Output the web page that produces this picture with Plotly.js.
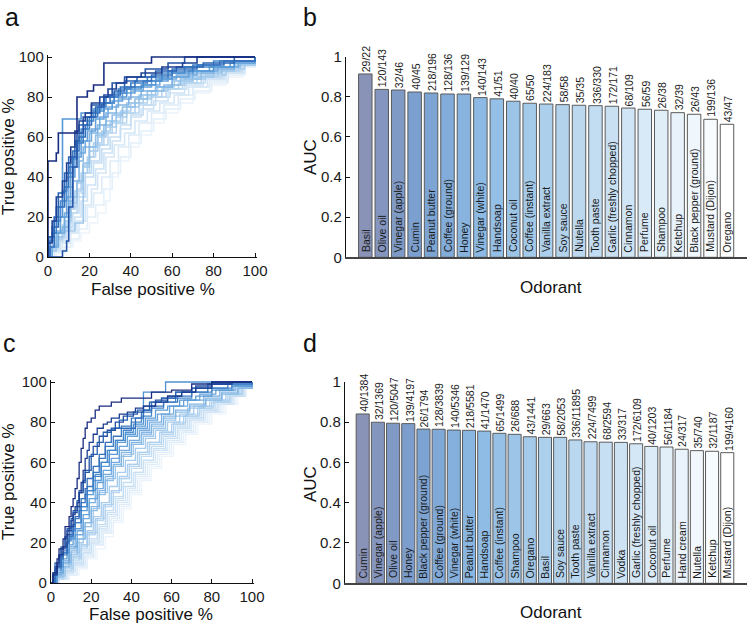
<!DOCTYPE html>
<html><head><meta charset="utf-8">
<script src="https://cdn.plot.ly/plotly-3.0.1.min.js"></script>
<style>html,body{margin:0;padding:0;background:#fff}#chart{width:748px;height:623px}</style>
</head><body><div id="chart"></div>
<script>
// ---------- Data: panel b (AUC per odorant) ----------
const odorB = ["Basil","Olive oil","Vinegar (apple)","Cumin","Peanut butter","Coffee (ground)","Honey","Vinegar (white)","Handsoap","Coconut oil","Coffee (instant)","Vanilla extract","Soy sauce","Nutella","Tooth paste","Garlic (freshly chopped)","Cinnamon","Perfume","Shampoo","Ketchup","Black pepper (ground)","Mustard (Dijon)","Oregano"];
const aucB = [0.914,0.837,0.834,0.824,0.819,0.814,0.814,0.796,0.790,0.778,0.768,0.764,0.761,0.758,0.756,0.753,0.744,0.738,0.733,0.721,0.713,0.688,0.663];
const countsB = ["29/22","120/143","32/46","40/45","218/196","128/136","139/129","140/143","41/51","40/40","65/50","224/183","58/58","35/35","336/330","172/171","68/109","56/59","26/38","32/39","26/43","199/136","43/47"];

// ---------- Data: panel d ----------
const odorD = ["Cumin","Vinegar (apple)","Olive oil","Honey","Black pepper (ground)","Coffee (ground)","Vinegar (white)","Peanut butter","Handsoap","Coffee (instant)","Shampoo","Oregano","Basil","Soy sauce","Tooth paste","Vanilla extract","Cinnamon","Vodka","Garlic (freshly chopped)","Coconut oil","Perfume","Hand cream","Nutella","Ketchup","Mustard (Dijon)"];
const aucD = [0.840,0.799,0.794,0.792,0.765,0.764,0.760,0.759,0.755,0.744,0.739,0.727,0.724,0.724,0.711,0.702,0.700,0.699,0.692,0.679,0.676,0.665,0.658,0.655,0.648];
const countsD = ["40/1384","32/1369","120/5047","139/4197","26/1794","128/3839","140/5346","218/5581","41/1470","65/1499","26/688","43/1441","29/663","58/2053","336/11895","224/7499","68/2594","33/317","172/6109","40/1203","56/1184","24/317","35/740","32/1187","199/4160"];

// ---------- Data: panel a ROC curves ([FPR %, TPR %] corners), same order as odorB ----------
const rocA = [
 [[0,0],[0,48],[4,52],[5,62],[12,62],[14,80],[19,83],[22,86],[27,86],[27,97],[45,97],[50,100],[100,100]],
 [[0,0],[0,7],[2,18],[4,30],[7,38],[9,47],[11,55],[13,63],[15,68],[18,72],[21,77],[25,80],[29,84],[33,87],[38,90],[45,92],[55,95],[65,97],[72,100],[100,100]],
 [[0,0],[7,3],[9,8],[10,25],[12,45],[14,62],[17,70],[21,76],[27,81],[31,87],[37,90],[47,94],[58,97],[66,100],[100,100]],
 [[0,0],[0,10],[3,20],[5,32],[8,42],[10,50],[13,58],[15,66],[19,70],[23,75],[27,80],[32,83],[37,88],[43,90],[52,93],[62,95],[75,97],[90,100],[100,100]],
 [[0,0],[1,5],[3,15],[5,25],[8,35],[10,45],[12,53],[15,60],[18,66],[21,72],[25,77],[30,81],[35,85],[42,88],[50,91],[60,94],[72,96],[85,98],[100,100]],
 [[0,0],[0,8],[2,12],[4,25],[7,33],[9,42],[12,50],[14,57],[17,64],[20,70],[24,75],[28,80],[34,84],[40,87],[48,90],[58,93],[70,96],[83,98],[100,100]],
 [[0,0],[1,10],[3,18],[6,28],[9,40],[11,49],[14,58],[16,64],[19,68],[22,73],[27,77],[32,82],[38,85],[46,88],[55,92],[66,95],[80,98],[100,100]],
 [[0,0],[0,10],[2,15],[5,20],[7,50],[7,69],[14,69],[16,72],[22,74],[26,77],[32,80],[38,84],[45,86],[52,89],[60,92],[70,93],[80,95],[90,98],[100,100]],
 [[0,0],[1,8],[3,12],[6,20],[9,30],[11,40],[13,50],[16,58],[19,63],[23,69],[27,74],[31,78],[36,82],[42,85],[50,88],[58,90],[68,93],[78,95],[88,97],[100,100]],
 [[0,0],[2,5],[5,12],[8,22],[10,35],[12,45],[15,52],[18,58],[21,64],[25,70],[29,75],[34,79],[40,83],[46,86],[54,89],[62,91],[72,93],[82,95],[92,98],[100,100]],
 [[0,0],[1,5],[4,13],[7,15],[10,28],[12,38],[15,48],[17,55],[20,62],[24,66],[28,72],[33,76],[39,80],[45,83],[52,85],[60,90],[70,92],[80,94],[90,97],[100,100]],
 [[0,0],[2,6],[5,12],[8,20],[11,30],[14,38],[17,47],[20,55],[23,61],[27,66],[31,71],[36,75],[42,79],[48,83],[56,86],[64,89],[74,92],[84,95],[93,98],[100,100]],
 [[0,0],[0,5],[3,10],[7,13],[10,13],[13,17],[17,17],[17,45],[20,55],[24,62],[28,68],[33,72],[38,77],[44,81],[52,85],[60,88],[70,90],[80,93],[90,96],[100,100]],
 [[0,0],[1,3],[4,10],[8,18],[11,27],[14,37],[17,46],[20,53],[24,60],[28,65],[33,70],[38,75],[44,79],[50,83],[58,86],[66,89],[76,91],[86,94],[95,97],[100,100]],
 [[0,0],[1,4],[4,9],[7,16],[10,24],[13,33],[16,42],[19,50],[22,57],[26,63],[30,68],[35,73],[40,77],[46,81],[53,85],[61,88],[70,91],[80,94],[90,97],[100,100]],
 [[0,0],[2,5],[5,10],[8,17],[11,25],[14,34],[17,42],[20,50],[23,56],[27,62],[31,67],[36,72],[42,77],[48,80],[55,84],[63,87],[72,90],[82,93],[92,96],[100,100]],
 [[0,0],[1,3],[4,8],[7,14],[11,22],[14,30],[18,42],[21,48],[25,56],[29,62],[33,67],[38,72],[44,76],[50,80],[57,84],[65,87],[74,90],[84,93],[93,97],[100,100]],
 [[0,0],[2,4],[5,9],[9,15],[12,22],[15,32],[18,40],[22,47],[26,54],[30,60],[35,66],[40,71],[46,76],[52,80],[59,84],[67,87],[76,90],[85,93],[94,97],[100,100]],
 [[0,0],[2,3],[6,8],[10,14],[13,20],[16,28],[19,36],[23,44],[27,52],[31,58],[35,64],[40,70],[45,74],[51,78],[58,82],[66,86],[75,89],[85,92],[94,96],[100,100]],
 [[0,0],[2,4],[6,7],[10,12],[14,18],[18,26],[21,34],[24,42],[28,50],[32,56],[37,62],[42,68],[48,73],[54,77],[61,81],[68,85],[77,89],[86,92],[95,96],[100,100]],
 [[0,0],[3,3],[7,7],[11,12],[15,18],[19,25],[22,32],[26,40],[30,48],[34,55],[39,61],[44,67],[50,72],[56,76],[63,81],[70,85],[78,88],[87,92],[95,96],[100,100]],
 [[0,0],[3,2],[7,5],[11,9],[15,14],[19,20],[23,26],[27,34],[31,42],[35,50],[40,57],[45,63],[51,69],[57,74],[64,79],[71,83],[79,87],[87,91],[95,95],[100,100]],
 [[0,0],[4,2],[8,5],[12,8],[16,12],[20,17],[24,22],[28,28],[30,40],[34,48],[39,55],[44,61],[50,67],[56,72],[63,77],[70,82],[78,86],[86,90],[94,95],[100,100]]
];

// ---------- Data: panel c ROC curves, same order as odorD ----------
const rocC = [
 [[0,0],[1,5],[3,12],[4,17],[6,22],[7,28],[9,33],[10,38],[11,42],[12,47],[13,52],[14,60],[15,67],[16,72],[17,77],[18,80],[20,82],[22,86],[24,88],[28,88],[30,90],[35,92],[45,92],[50,95],[60,96],[70,99],[80,100],[100,100]],
 [[0,0],[1,4],[3,10],[4,14],[6,18],[8,24],[9,28],[11,34],[12,38],[14,45],[15,50],[16,56],[17,62],[18,66],[19,70],[21,74],[23,77],[26,79],[28,80],[30,82],[34,84],[38,85],[42,87],[46,88],[52,90],[58,93],[65,95],[72,97],[80,99],[90,100],[100,100]],
 [[0,0],[1,4],[2,8],[4,13],[5,17],[7,22],[8,26],[10,31],[11,35],[13,40],[14,45],[16,50],[17,55],[19,63],[21,68],[24,73],[28,76],[32,80],[36,83],[41,85],[46,88],[52,91],[58,93],[65,95],[72,98],[80,100],[100,100]],
 [[0,0],[1,5],[2,10],[4,14],[5,18],[7,23],[8,27],[10,32],[11,36],[13,41],[14,46],[16,51],[17,56],[20,64],[23,70],[26,75],[30,77],[34,81],[38,84],[43,86],[49,90],[55,92],[62,95],[70,97],[78,99],[88,100],[100,100]],
 [[0,0],[2,4],[3,8],[5,12],[6,15],[8,20],[9,24],[11,29],[12,33],[14,38],[15,42],[17,47],[18,52],[21,58],[24,64],[27,70],[30,76],[32,77],[40,77],[42,82],[46,86],[50,90],[55,92],[62,95],[70,97],[80,99],[90,100],[100,100]],
 [[0,0],[2,5],[3,9],[5,13],[6,16],[8,20],[9,23],[11,28],[12,32],[14,36],[15,40],[17,44],[18,48],[21,55],[24,62],[27,68],[31,73],[35,78],[40,82],[45,85],[50,88],[56,90],[63,93],[70,95],[78,97],[88,99],[100,100]],
 [[0,0],[2,7],[5,14],[8,21],[10,26],[12,30],[15,38],[18,46],[21,53],[25,60],[28,66],[32,71],[36,76],[40,80],[45,83],[50,87],[56,90],[62,92],[70,95],[80,97],[90,99],[100,100]],
 [[0,0],[3,8],[6,15],[9,22],[12,30],[15,38],[18,46],[22,54],[25,60],[29,66],[33,71],[37,75],[41,79],[46,83],[46,95],[57,97],[57,100],[100,100]],
 [[0,0],[2,6],[5,12],[8,19],[11,27],[15,36],[18,44],[21,51],[25,58],[29,64],[33,70],[37,74],[42,78],[47,82],[52,86],[58,88],[64,91],[72,93],[80,96],[90,98],[100,100]],
 [[0,0],[3,5],[6,11],[9,18],[13,26],[16,34],[19,42],[23,50],[26,56],[30,62],[34,68],[38,73],[43,77],[48,81],[53,84],[59,88],[66,91],[74,94],[82,96],[91,98],[100,100]],
 [[0,0],[2,4],[5,10],[9,17],[12,24],[16,32],[19,40],[22,47],[26,54],[30,60],[34,66],[39,71],[44,76],[49,80],[55,84],[61,88],[68,91],[76,93],[84,96],[92,98],[100,100]],
 [[0,0],[3,5],[6,10],[10,16],[13,22],[17,30],[20,38],[24,46],[27,53],[31,59],[35,65],[40,70],[45,75],[50,79],[56,83],[62,86],[69,89],[77,92],[85,95],[93,97],[100,100]],
 [[0,0],[2,3],[6,8],[9,14],[13,20],[16,28],[20,36],[23,44],[27,51],[31,58],[35,63],[40,69],[45,74],[50,78],[56,82],[62,85],[69,88],[77,91],[85,94],[93,97],[100,100]],
 [[0,0],[3,4],[7,9],[10,15],[14,22],[17,30],[21,37],[24,45],[28,52],[32,58],[36,64],[41,69],[46,73],[51,77],[57,81],[62,83],[68,83],[68,87],[76,91],[85,94],[93,97],[100,100]],
 [[0,0],[3,4],[6,8],[10,13],[14,19],[18,26],[21,33],[25,40],[29,48],[33,55],[37,61],[42,67],[47,72],[52,76],[58,80],[64,84],[71,88],[79,91],[87,94],[94,97],[100,100]],
 [[0,0],[3,3],[7,7],[11,12],[15,18],[18,25],[22,32],[26,39],[30,46],[34,53],[38,59],[43,65],[48,70],[54,75],[60,79],[66,83],[73,87],[80,90],[88,94],[95,97],[100,100]],
 [[0,0],[3,4],[7,8],[11,13],[15,19],[19,25],[23,32],[27,39],[31,46],[35,52],[39,58],[44,64],[49,69],[55,74],[61,79],[67,83],[74,87],[81,90],[89,94],[95,97],[100,100]],
 [[0,0],[2,2],[6,6],[10,11],[14,17],[18,24],[22,31],[26,38],[30,45],[34,52],[39,59],[44,65],[49,70],[55,75],[61,80],[67,84],[74,88],[81,91],[89,94],[95,97],[100,100]],
 [[0,0],[3,3],[7,6],[11,10],[15,16],[19,22],[23,29],[27,36],[31,43],[36,50],[40,57],[45,63],[50,68],[56,73],[62,78],[68,82],[75,86],[82,90],[89,93],[95,97],[100,100]],
 [[0,0],[3,2],[7,5],[11,9],[16,15],[20,21],[24,28],[28,35],[32,42],[36,48],[41,55],[46,61],[51,67],[57,72],[63,77],[69,82],[76,86],[83,90],[90,93],[96,97],[100,100]],
 [[0,0],[4,3],[8,6],[12,10],[16,15],[20,20],[24,27],[28,34],[33,41],[37,48],[42,55],[46,61],[51,66],[57,72],[63,77],[69,81],[76,85],[83,89],[90,93],[96,97],[100,100]],
 [[0,0],[4,2],[8,5],[12,9],[17,14],[21,20],[25,26],[29,33],[33,40],[38,47],[42,54],[47,60],[52,66],[58,71],[64,76],[70,81],[77,85],[84,89],[91,93],[96,97],[100,100]],
 [[0,0],[4,2],[8,4],[13,8],[17,13],[21,19],[26,25],[30,32],[34,39],[39,46],[43,53],[48,59],[53,65],[59,70],[65,75],[71,80],[78,85],[85,89],[91,93],[97,97],[100,100]],
 [[0,0],[4,2],[9,4],[13,8],[18,13],[22,19],[26,25],[31,31],[35,38],[39,45],[44,52],[49,58],[54,64],[60,70],[66,75],[72,80],[79,85],[86,89],[92,93],[97,97],[100,100]],
 [[0,0],[4,2],[9,4],[14,7],[18,12],[23,17],[27,23],[31,30],[36,37],[40,44],[45,51],[50,57],[55,63],[61,69],[67,74],[73,79],[80,84],[87,89],[93,93],[97,97],[100,100]]
];

const tickVals = [0,20,40,60,80,100];
const aucTicks = [0,0.2,0.4,0.6,0.8,1];

// ---------- Styling helpers ----------
const W = 748, H = 623;
const FONT = "Liberation Sans, Arial, sans-serif";
const curveStops = [[0,[24,44,128]],[0.12,[38,96,178]],[0.3,[80,148,212]],[0.55,[160,200,235]],[1,[236,244,251]]];
const barStops = [[0,[137,146,183]],[0.15,[122,160,208]],[0.32,[140,186,228]],[0.5,[172,207,235]],[0.75,[212,231,246]],[1,[255,255,255]]];
function cmap(stops, t){
  for(let k=0;k<stops.length-1;k++){
    const [t0,c0]=stops[k],[t1,c1]=stops[k+1];
    if(t<=t1){const f=(t-t0)/(t1-t0);return 'rgb('+c0.map((v,j)=>Math.round(v+(c1[j]-v)*f)).join(',')+')';}
  }
  const c=stops[stops.length-1][1];return 'rgb('+c.join(',')+')';
}
const px = x => x/W, py = y => 1 - y/H;
function domX(p0, p1, v0, v1, r0, r1){ const s=(p1-p0)/(v1-v0); return [px(p0+(r0-v0)*s), px(p0+(r1-v0)*s)]; }
function domY(p0, p1, v0, v1, r0, r1){ const s=(p1-p0)/(v1-v0); return [py(p0+(r0-v0)*s), py(p0+(r1-v0)*s)]; }

const traces = [];
function addRoc(curves, xa, ya, shape, width){
  const n = curves.length;
  for(let i=n-1;i>=0;i--){
    traces.push({type:'scatter', mode:'lines', x:curves[i].map(p=>p[0]), y:curves[i].map(p=>p[1]),
      xaxis:xa, yaxis:ya, line:{color:cmap(curveStops, i/(n-1)), width:width, shape:shape}, hoverinfo:'skip', showlegend:false});
  }
}
addRoc(rocA,'x','y','hv',1.6);
addRoc(rocC,'x3','y3','hv',1.3);

function addBars(odor, auc, xa, ya, w){
  const n = odor.length;
  traces.push({type:'bar', x:odor.map((_,i)=>i), y:auc, xaxis:xa, yaxis:ya, width:w,
    marker:{color:odor.map((_,i)=>cmap(barStops, i/(n-1))), line:{color:'#5a5a5a', width:1}},
    hoverinfo:'skip', showlegend:false});
}
addBars(odorB, aucB, 'x2','y2', 0.82);
addBars(odorD, aucD, 'x4','y4', 0.86);

const annotations = [];
function barLabels(odor, auc, counts, xa, ya){
  odor.forEach((name,i)=>{
    annotations.push({xref:xa, yref:ya, x:i, y:0, text:name, textangle:-90, showarrow:false,
      xanchor:'center', yanchor:'bottom', yshift:3, font:{family:FONT, size:10.5, color:'#1a1a1a'}});
    annotations.push({xref:xa, yref:ya, x:i, y:auc[i], text:counts[i], textangle:-90, showarrow:false,
      xanchor:'center', yanchor:'bottom', yshift:0, xshift:1, font:{family:FONT, size:10.5, color:'#1a1a1a'}});
  });
}
barLabels(odorB, aucB, countsB, 'x2','y2');
barLabels(odorD, aucD, countsD, 'x4','y4');

function txt(text, x, y, size, angle, xa, ya){
  annotations.push({xref:'paper', yref:'paper', x:px(x), y:py(y), text:text, showarrow:false, textangle:angle||0,
    xanchor:xa||'center', yanchor:ya||'middle', font:{family:FONT, size:size, color:'#111'}});
}
txt('a', 3, 1, 25, 0, 'left', 'top');
txt('b', 301, 1, 25, 0, 'left', 'top');
txt('c', 1, 327, 25, 0, 'left', 'top');
txt('d', 301, 327, 25, 0, 'left', 'top');
txt('True positive %', 8, 157, 17, -90);
txt('False positive %', 153, 289, 17);
txt('True positive %', 8, 482, 17, -90);
txt('False positive %', 151, 614, 17);
txt('AUC', 310, 157, 17, -90);
txt('Odorant', 551, 287, 17);
txt('AUC', 310, 484, 17, -90);
txt('Odorant', 551, 612, 17);

const tickFont = {family:FONT, size:15, color:'#1a1a1a'};
function rocAx(dom, anchor){ return {domain:dom, range:[0,100.8], anchor:anchor, tickvals:tickVals, ticks:'inside', ticklen:4, tickcolor:'#111',
  showline:true, linecolor:'#111', linewidth:1.2, showgrid:false, zeroline:false, tickfont:tickFont, fixedrange:true}; }
function barX(dom, range, anchor){ return {domain:dom, range:range, anchor:anchor, showticklabels:false, ticks:'',
  showline:true, linecolor:'#444', linewidth:2, showgrid:false, zeroline:false, fixedrange:true}; }
function barY(dom, anchor){ return {domain:dom, range:[0,1], anchor:anchor, tickvals:aucTicks, ticks:'inside', ticklen:4, tickcolor:'#111',
  showline:true, linecolor:'#111', linewidth:1.2, showgrid:false, zeroline:false, tickfont:tickFont, fixedrange:true}; }

const layout = {
  width:W, height:H, margin:{l:0,r:0,t:0,b:0}, paper_bgcolor:'#fff', plot_bgcolor:'rgba(0,0,0,0)',
  showlegend:false, bargap:0.2,
  xaxis: rocAx(domX(48,255,0,100,0,100.8),'y'),
  yaxis: rocAx(domY(257,57,0,100,0,100.8),'x'),
  xaxis3: rocAx(domX(51,252,0,100,0,100.8),'y3'),
  yaxis3: rocAx(domY(583,382,0,100,0,100.8),'x3'),
  xaxis2: barX([px(346),px(747)], [(346-365.3)/16.44, (747-365.3)/16.44], 'y2'),
  yaxis2: barY([py(257.3),py(56.7)],'x2'),
  xaxis4: barX([px(345),px(746.7)], [(345-362.7)/15.19, (746.7-362.7)/15.19], 'y4'),
  yaxis4: barY([py(583.3),py(381.7)],'x4'),
  annotations: annotations
};
Plotly.newPlot('chart', traces, layout, {displayModeBar:false, staticPlot:true});
</script></body></html>
